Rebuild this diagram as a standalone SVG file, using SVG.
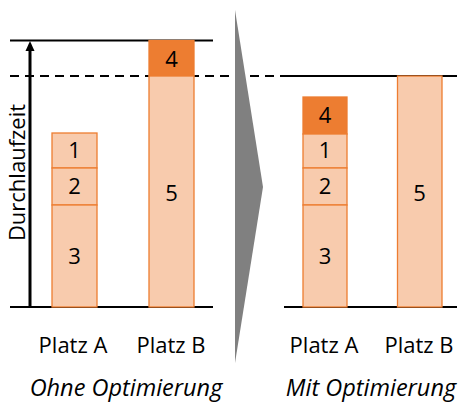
<svg xmlns="http://www.w3.org/2000/svg" width="460" height="403" viewBox="0 0 460 403">
  <style>
    .t { font-family: "Open Sans", "Liberation Sans", sans-serif; font-size: 22px; fill: #000; text-anchor: middle; }
    .it { font-style: italic; font-size: 23.5px; }
    .light { fill: #F8CBAD; stroke: #ED7D31; stroke-width: 1.3; }
    .dark { fill: #ED7D31; stroke: #ED7D31; stroke-width: 1.3; }
    .line { stroke: #000; stroke-width: 2; fill: none; }
  </style>

  <!-- reference lines -->
  <g id="connectors">
    <line class="line" x1="10" y1="40.5" x2="213" y2="40.5" stroke-width="1.6"/>
    <line class="line" x1="10" y1="76" x2="283" y2="76" stroke-dasharray="9,6"/>
    <line class="line" x1="283" y1="76" x2="457" y2="76"/>
    <line class="line" x1="10" y1="307" x2="213" y2="307"/>
    <line class="line" x1="284" y1="307" x2="457" y2="307"/>
    <!-- lead time arrow -->
    <line x1="30" y1="307" x2="30" y2="49" stroke="#000" stroke-width="3"/>
    <path d="M30,41 L34.5,51 L25.5,51 Z" fill="#000"/>
  </g>

  <!-- transition chevron -->
  <g id="chevron">
    <path d="M235,10 L263,187 L235,363 Z" fill="#808080"/>
  </g>

  <!-- axis label -->
  <g id="axis-label">
    <text class="t" transform="translate(25,172.5) rotate(-90)">Durchlaufzeit</text>
  </g>

  <!-- before: station A -->
  <g id="before-a">
    <rect class="light" x="52" y="133" width="45" height="35"/>
    <rect class="light" x="52" y="168" width="45" height="37"/>
    <rect class="light" x="52" y="205" width="45" height="102"/>
    <text class="t" x="74.5" y="158">1</text>
    <text class="t" x="74.5" y="194">2</text>
    <text class="t" x="74.5" y="264">3</text>
    <text class="t" x="73" y="353">Platz A</text>
  </g>

  <!-- before: station B -->
  <g id="before-b">
    <rect class="dark" x="149" y="40.5" width="45" height="35.5"/>
    <rect class="light" x="149" y="76" width="45" height="231"/>
    <text class="t" x="171.5" y="67">4</text>
    <text class="t" x="171.5" y="201">5</text>
    <text class="t" x="171" y="353">Platz B</text>
  </g>

  <!-- after: station A -->
  <g id="after-a">
    <rect class="dark" x="303" y="97" width="44" height="37"/>
    <rect class="light" x="303" y="134" width="44" height="34"/>
    <rect class="light" x="303" y="168" width="44" height="37"/>
    <rect class="light" x="303" y="205" width="44" height="102"/>
    <text class="t" x="325" y="123">4</text>
    <text class="t" x="325" y="158">1</text>
    <text class="t" x="325" y="194">2</text>
    <text class="t" x="325" y="264">3</text>
    <text class="t" x="324" y="353">Platz A</text>
  </g>

  <!-- after: station B -->
  <g id="after-b">
    <rect class="light" x="397.5" y="76" width="44.5" height="231"/>
    <text class="t" x="419.5" y="201">5</text>
    <text class="t" x="419" y="353">Platz B</text>
  </g>

  <!-- captions -->
  <g id="captions">
    <text class="t it" x="126" y="396">Ohne Optimierung</text>
    <text class="t it" x="371" y="396">Mit Optimierung</text>
  </g>
</svg>
